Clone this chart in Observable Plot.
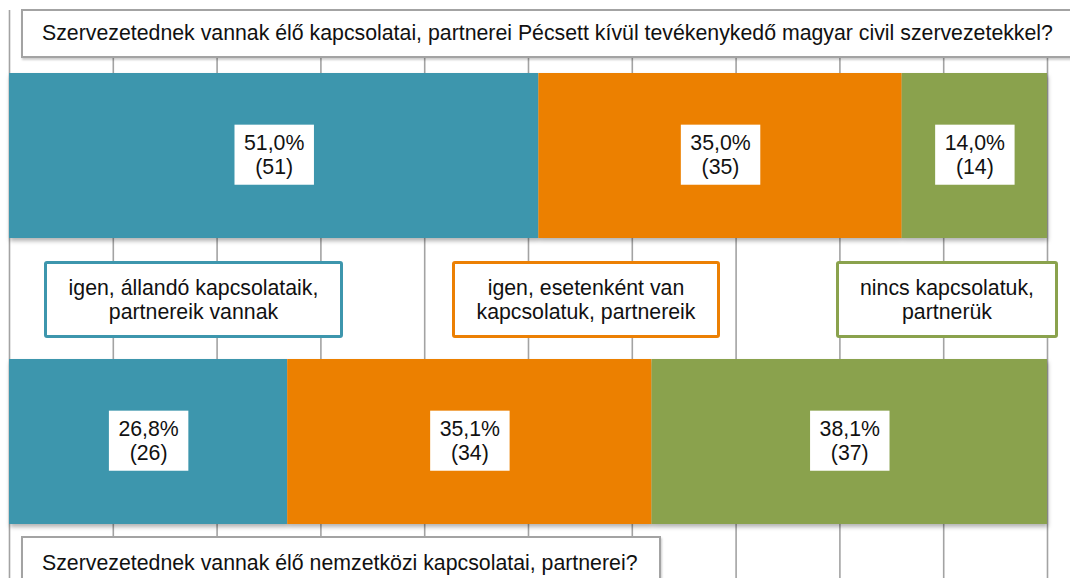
<!DOCTYPE html>
<html>
<head>
<meta charset="utf-8">
<script src="https://cdn.jsdelivr.net/npm/d3@7"></script>
<script src="https://cdn.jsdelivr.net/npm/@observablehq/plot@0.6"></script>
<style>
  html, body { margin: 0; padding: 0; background: #fff; }
  #wrap { position: relative; width: 1070px; height: 578px; overflow: hidden; font-family: "Liberation Sans", Arial, sans-serif; color: #111; }
  #chart { position: absolute; left: 0; top: 0; }
  .qbox { position: absolute; background: #fff; border: 2px solid #a3a3a3; box-shadow: 1px 2px 2px rgba(0,0,0,0.2); font-size: 21.3px; box-sizing: border-box; padding-left: 19px; white-space: nowrap; }
  #q1 { left: 21px; top: 9px; width: 1060px; height: 49px; line-height: 45px; }
  #q2 { left: 21px; top: 536px; width: 640px; height: 60px; padding-top: 5px; line-height: 40px; }
  .lbox { position: absolute; top: 261px; height: 77px; background: #fff; box-sizing: border-box; border: 3px solid; border-radius: 3px; font-size: 21.3px; line-height: 24px; text-align: center; display: flex; align-items: center; justify-content: center; }
</style>
</head>
<body>
<div id="wrap">
  <div id="chart"></div>
  <div id="q1" class="qbox"></div>
  <div id="q2" class="qbox"></div>
  <div id="legend"></div>
</div>
<script>
// ---- data ----
const questions = [
  "Szervezetednek vannak élő kapcsolatai, partnerei Pécsett kívül tevékenykedő magyar civil szervezetekkel?",
  "Szervezetednek vannak élő nemzetközi kapcsolatai, partnerei?"
];
const categories = [
  "igen, állandó kapcsolataik, partnereik vannak",
  "igen, esetenként van kapcsolatuk, partnereik",
  "nincs kapcsolatuk, partnerük"
];
const legendLines = [
  ["igen, állandó kapcsolataik,", "partnereik vannak"],
  ["igen, esetenként van", "kapcsolatuk, partnereik"],
  ["nincs kapcsolatuk,", "partnerük"]
];
const percentQ1 = [51.0, 35.0, 14.0];
const countQ1 = [51, 35, 14];
const percentQ2 = [26.8, 35.1, 38.1];
const countQ2 = [26, 34, 37];
const colors = ["#3d96ad", "#ec8004", "#8aa24d"];
const gridTicks = [0, 10, 20, 30, 40, 50, 60, 70, 80, 90, 100];

// ---- build table ----
const rows = [];
categories.forEach((c, i) => rows.push({question: questions[0], category: c, pct: percentQ1[i], n: countQ1[i]}));
categories.forEach((c, i) => rows.push({question: questions[1], category: c, pct: percentQ2[i], n: countQ2[i]}));
const fmt = d => d.pct.toFixed(1).replace(".", ",") + "%\n(" + d.n + ")";

const chart = Plot.plot({
  width: 1070,
  height: 578,
  marginTop: 10,
  marginBottom: 0,
  marginLeft: 0,
  marginRight: 0,
  style: {fontFamily: "'Liberation Sans', Arial, sans-serif", background: "#fff"},
  x: {domain: [0, 100], range: [9, 1047], axis: null},
  y: {domain: questions, range: [72, 525], paddingInner: 0.4216, paddingOuter: 0, axis: null},
  color: {domain: categories, range: colors},
  marks: [
    Plot.ruleX(gridTicks, {x: d => d, stroke: "#a3a3a3", strokeWidth: 1.6, strokeOpacity: 1}),
    Plot.barX(rows, Plot.stackX({x: "pct", y: "question", fill: "category", order: null, className: "bars"})),
    Plot.text(rows, Plot.stackX({x: "pct", y: "question", order: null, text: fmt, fontSize: 21.3, lineHeight: 1.13, dy: -2, fill: "#111", className: "lbl"}))
  ]
});
document.getElementById("chart").appendChild(chart);

// drop shadow for bars
const svg = d3.select(chart);
const defs = svg.insert("defs", ":first-child");
const f = defs.append("filter").attr("id", "shd").attr("x", "-5%").attr("y", "-5%").attr("width", "110%").attr("height", "120%");
f.append("feDropShadow").attr("dx", 1).attr("dy", 3).attr("stdDeviation", 2).attr("flood-color", "#000").attr("flood-opacity", 0.3);
svg.selectAll("g.bars").attr("filter", "url(#shd)");

// white boxes behind value labels
svg.selectAll("g.lbl text").each(function() {
  const t = this;
  const b = t.getBBox();
  const padX = 9.5, padY = 6;
  const r = d3.select(t.parentNode).insert("rect", () => t)
    .attr("x", b.x - padX).attr("y", b.y - padY)
    .attr("width", b.width + 2 * padX).attr("height", b.height + 2 * padY)
    .attr("fill", "#fff");
  const tr = t.getAttribute("transform");
  if (tr) r.attr("transform", tr);
});

// question boxes
document.getElementById("q1").textContent = questions[0];
document.getElementById("q2").textContent = questions[1];

// legend boxes
const legendPos = [{left: 44, width: 299}, {left: 452, width: 268}, {left: 836, width: 222}];
const leg = document.getElementById("legend");
categories.forEach((c, i) => {
  const d = document.createElement("div");
  d.className = "lbox";
  d.style.left = legendPos[i].left + "px";
  d.style.width = legendPos[i].width + "px";
  d.style.borderColor = colors[i];
  d.innerHTML = legendLines[i].join("<br>");
  leg.appendChild(d);
});
</script>
</body>
</html>
